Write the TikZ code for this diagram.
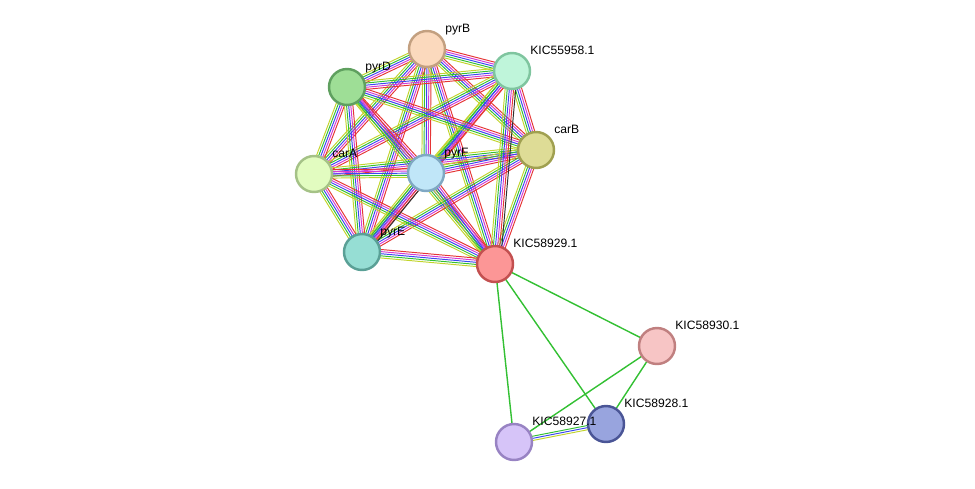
\documentclass[tikz,border=0pt]{standalone}
\usepackage{fontspec}
\setmainfont{Liberation Sans}
\usetikzlibrary{calc}
\definecolor{sy}{HTML}{C2D42C}
\definecolor{sg}{HTML}{33C033}
\definecolor{sb}{HTML}{3A48F0}
\definecolor{sm}{HTML}{D43BD4}
\definecolor{sr}{HTML}{E53535}
\definecolor{sk}{HTML}{303030}
\newcommand{\multiedge}[3][sy/-2.4,sg/-1.2,sb/0,sm/1.2,sr/2.4]{
 \foreach \c/\o in {#1}{\draw[\c,line width=0.55pt] ($(#2)!\o pt!90:(#3)$) -- ($(#3)!\o pt!-90:(#2)$);}}
\tikzset{prot/.style 2 args={circle,draw=#2,fill=#1,line width=1.4pt,minimum size=0.72cm,inner sep=0pt},
 lbl/.style={anchor=base west,font=\fontsize{6.9}{8}\selectfont,inner sep=0pt}}
\begin{document}
\begin{tikzpicture}[x=0.02cm,y=-0.02cm]
\useasboundingbox (0,0) rectangle (975,488);
\coordinate (pyrB) at (427,49);
\coordinate (K55958) at (512,71);
\coordinate (pyrD) at (347,87);
\coordinate (carB) at (536,150);
\coordinate (carA) at (314,174);
\coordinate (pyrF) at (426,173);
\coordinate (pyrE) at (362,252);
\coordinate (K58929) at (495,264);
\coordinate (K58930) at (657,346);
\coordinate (K58928) at (606,424);
\coordinate (K58927) at (514,442);
% cluster edges
\foreach \a/\b in {pyrB/K55958,pyrB/pyrD,pyrB/carB,pyrB/carA,pyrB/pyrF,pyrB/pyrE,pyrB/K58929,
 K55958/pyrD,K55958/carB,K55958/carA,K55958/pyrF,K55958/pyrE,
 pyrD/carB,pyrD/carA,pyrD/pyrF,pyrD/pyrE,pyrD/K58929,
 carB/carA,carB/pyrF,carB/pyrE,carB/K58929,
 carA/pyrF,carA/pyrE,carA/K58929,pyrF/K58929,pyrE/K58929}
 {\multiedge{\a}{\b}}
\foreach \a/\b in {K55958/K58929,pyrF/pyrE}
 {\multiedge[sy/-3,sg/-1.8,sb/-0.6,sm/0.6,sr/1.8,sk/3]{\a}{\b}}
\multiedge[sy/-1.2,sb/0,sg/1.2]{K58927}{K58928}
\foreach \a/\b in {K58929/K58930,K58929/K58928,K58929/K58927,K58930/K58928,K58930/K58927}
 \draw[sg,line width=0.8pt] (\a) -- (\b);
% proteins
\foreach \n/\f/\d/\t in {pyrB/FBD9BD/C3A080/pyrB,K55958/BFF5DA/7FC59F/KIC55958.1,pyrD/9EDE96/5FA05F/pyrD,
 carB/DEDC96/A0A050/carB,carA/E2FCC0/A5C287/carA,pyrF/C0E6F8/7FA8C3/pyrF,pyrE/96DED4/5AA096/pyrE,
 K58929/FC9696/C35050/KIC58929.1,K58930/F7C5C5/C08080/KIC58930.1,K58928/98A4DE/4A5596/KIC58928.1,
 K58927/D6C4F8/9883C3/KIC58927.1}{
 \definecolor{f}{HTML}{\f}\definecolor{d}{HTML}{\d}
 \node[prot={f}{d}] (n\n) at (\n) {};
 \node[lbl] (l\n) at ($(\n)+(18,-17)$) {\t};}
\end{tikzpicture}
\end{document}
